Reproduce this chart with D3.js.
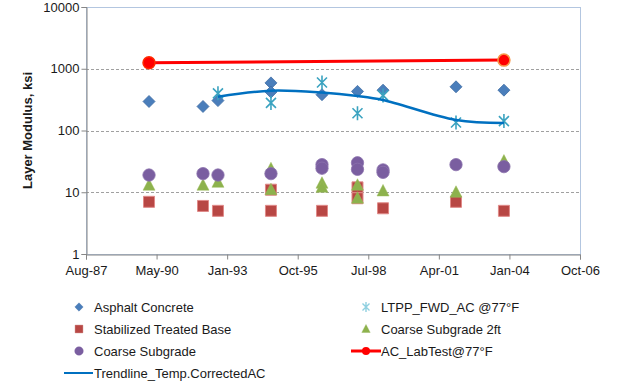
<!DOCTYPE html>
<html>
<head>
<meta charset="utf-8">
<script src="https://cdn.jsdelivr.net/npm/d3@7"></script>
<style>
  body { margin: 0; background: #fff; }
  text { font-family: Arial, "Liberation Sans", sans-serif; }
</style>
</head>
<body>
<svg width="617" height="390"></svg>
<script>
// data, [date, ksi]
const asphaltConcrete = [
  ["1990-01-20", 295], ["1992-02-24", 245], ["1992-09-23", 305],
  ["1994-10-14", 590], ["1994-10-14", 420], ["1996-10-06", 380],
  ["1998-02-21", 430], ["1999-02-18", 450], ["2001-12-18", 510],
  ["2003-10-28", 450]
];
const ltppFwdAC = [
  ["1992-09-23", 400], ["1994-10-14", 280], ["1996-10-06", 600],
  ["1998-02-21", 190], ["1999-02-18", 370], ["2001-12-18", 135],
  ["2003-10-28", 142]
];
const stabilizedBase = [
  ["1990-01-20", 7], ["1992-02-24", 6], ["1992-09-23", 5],
  ["1994-10-14", 11], ["1994-10-14", 5], ["1996-10-06", 5],
  ["1998-02-21", 12], ["1998-02-21", 8], ["1999-02-18", 5.5],
  ["2001-12-18", 7], ["2003-10-28", 5]
];
const coarseSubgrade2ft = [
  ["1990-01-20", 13], ["1992-02-24", 13], ["1992-09-23", 14.5],
  ["1994-10-14", 24], ["1994-10-14", 11], ["1996-10-06", 14],
  ["1996-10-06", 12], ["1998-02-21", 13], ["1998-02-21", 8],
  ["1999-02-18", 10.5], ["2001-12-18", 10], ["2003-10-28", 32]
];
const coarseSubgrade = [
  ["1990-01-20", 19], ["1992-02-24", 20], ["1992-09-23", 19],
  ["1994-10-14", 20], ["1996-10-06", 28], ["1996-10-06", 24.5],
  ["1998-02-21", 30], ["1998-02-21", 23.5], ["1999-02-18", 23],
  ["1999-02-18", 21], ["2001-12-18", 28], ["2003-10-28", 26]
];
const acLabTest = [["1990-01-20", 1250], ["2003-10-28", 1380]];
const trendline = [
  ["1992-09-23", 353], ["1994-10-14", 441], ["1996-10-06", 412],
  ["1998-02-21", 362], ["1999-02-18", 312], ["2001-12-18", 148],
  ["2003-10-28", 132]
];

const xTickLabels = ["Aug-87", "May-90", "Jan-93", "Oct-95", "Jul-98", "Apr-01", "Jan-04", "Oct-06"];
const yTicks = [1, 10, 100, 1000, 10000];

const parse = d3.timeParse("%Y-%m-%d");
const start = new Date(1987, 7, 11);                 // excel 32000, major unit 1000 days
const xTicks = xTickLabels.map((d, i) => d3.timeDay.offset(start, i * 1000));

const svg = d3.select("svg");
const plotL = 86, plotR = 580, plotT = 7, plotB = 254;

const x = d3.scaleTime().domain([xTicks[0], xTicks[xTicks.length - 1]]).range([plotL, plotR]);
const y = d3.scaleLog().domain([1, 10000]).range([plotB, plotT]);

// plot border
svg.append("rect")
  .attr("x", plotL + 0.5).attr("y", plotT + 0.5)
  .attr("width", plotR - plotL).attr("height", plotB - plotT)
  .attr("fill", "none").attr("stroke", "#b3c6e0").attr("stroke-width", 1);

// gridlines
svg.append("g").selectAll("line")
  .data([10, 100, 1000])
  .join("line")
  .attr("x1", plotL).attr("x2", plotR)
  .attr("y1", d => Math.round(y(d)) + 0.5).attr("y2", d => Math.round(y(d)) + 0.5)
  .attr("stroke", "#a0a0a0").attr("stroke-dasharray", "3,2");

// axes
const xAxis = svg.append("g")
  .attr("transform", `translate(0,${plotB + 0.5})`)
  .call(d3.axisBottom(x).tickValues(xTicks).tickFormat((d, i) => xTickLabels[i]).tickSizeOuter(0).tickSize(5));
const yAxis = svg.append("g")
  .attr("transform", `translate(${plotL + 0.5},0)`)
  .call(d3.axisLeft(y).tickValues(yTicks).tickFormat(d3.format("d")).tickSizeOuter(0).tickSize(5));

[xAxis, yAxis].forEach(g => {
  g.select(".domain").attr("stroke", "#868686");
  g.selectAll(".tick line").attr("stroke", "#868686");
  g.selectAll(".tick text").attr("fill", "#1a1a1a").style("font-size", "13px");
});
xAxis.selectAll(".tick text").attr("dy", "0.95em");
yAxis.selectAll(".tick text").attr("x", -7);

svg.append("text")
  .attr("transform", `translate(27,${(plotT + plotB) / 2}) rotate(-90)`)
  .attr("text-anchor", "middle")
  .attr("dy", "0.35em")
  .style("font-size", "13px").style("font-weight", "bold")
  .attr("fill", "#1a1a1a")
  .text("Layer Modulus, ksi");

// marker shapes
const shapes = {
  diamond: "M0,-6L6,0L0,6L-6,0Z",
  square: "M-5.5,-5.5H5.5V5.5H-5.5Z",
  triangle: "M0,-6.5L6,5L-6,5Z",
  circle: d3.symbol(d3.symbolCircle, 120)(),
  star: "M-5,-5L5,5M5,-5L-5,5M0,-7V7"
};

function drawMarkers(data, shape, fill, stroke, sw) {
  svg.append("g").selectAll("path")
    .data(data)
    .join("path")
    .attr("transform", d => `translate(${x(parse(d[0]))},${y(d[1])})`)
    .attr("d", shapes[shape])
    .attr("fill", fill).attr("stroke", stroke).attr("stroke-width", sw);
}

drawMarkers(asphaltConcrete, "diamond", "#4a7ebb", "#3e6ca3", 0.8);
drawMarkers(ltppFwdAC, "star", "none", "#3ba3c0", 1.6);
drawMarkers(stabilizedBase, "square", "#b84744", "#e08a88", 1);
drawMarkers(coarseSubgrade2ft, "triangle", "#8db24d", "#9bbb59", 0.5);
drawMarkers(coarseSubgrade, "circle", "#7a5ea0", "#8c72ad", 0.8);

// lab test line
const line = d3.line().x(d => x(parse(d[0]))).y(d => y(d[1]));
svg.append("path").datum(acLabTest)
  .attr("d", line).attr("fill", "none")
  .attr("stroke", "#ff0000").attr("stroke-width", 3);
svg.append("g").selectAll("circle")
  .data(acLabTest)
  .join("circle")
  .attr("cx", d => x(parse(d[0]))).attr("cy", d => y(d[1]))
  .attr("r", 6).attr("fill", "#ff0000")
  .attr("stroke", (d, i) => i ? "#f79646" : "#ff2a00").attr("stroke-width", 1.5);

// trendline
svg.append("path").datum(trendline)
  .attr("d", line.curve(d3.curveCatmullRom)).attr("fill", "none")
  .attr("stroke", "#0070c0").attr("stroke-width", 2.5);

// legend
const legendItems = [
  { label: "Asphalt Concrete", kind: "diamond", fill: "#4a7ebb", stroke: "#3e6ca3", col: 0, row: 0 },
  { label: "LTPP_FWD_AC @77°F", kind: "star", fill: "none", stroke: "#8fd0e0", col: 1, row: 0 },
  { label: "Stabilized Treated Base", kind: "square", fill: "#b84744", stroke: "#b84744", col: 0, row: 1 },
  { label: "Coarse Subgrade 2ft", kind: "triangle", fill: "#8db24d", stroke: "#8db24d", col: 1, row: 1 },
  { label: "Coarse Subgrade", kind: "circle", fill: "#7a5ea0", stroke: "#7a5ea0", col: 0, row: 2 },
  { label: "AC_LabTest@77°F", kind: "redline", col: 1, row: 2 },
  { label: "Trendline_Temp.CorrectedAC", kind: "blueline", col: 0, row: 3 }
];
const colX = [79, 366], rowY = [307, 329, 351, 373];

const leg = svg.append("g").selectAll("g")
  .data(legendItems)
  .join("g")
  .attr("transform", d => `translate(${colX[d.col]},${rowY[d.row]})`);

leg.each(function(d) {
  const g = d3.select(this);
  if (d.kind === "redline") {
    g.append("line").attr("x1", -15).attr("x2", 15).attr("stroke", "#ff0000").attr("stroke-width", 3);
    g.append("circle").attr("r", 4).attr("fill", "#ff0000");
  } else if (d.kind === "blueline") {
    g.append("line").attr("x1", -15).attr("x2", 14).attr("stroke", "#0070c0").attr("stroke-width", 2);
  } else {
    g.append("path").attr("d", shapes[d.kind])
      .attr("transform", "scale(0.7)")
      .attr("fill", d.fill).attr("stroke", d.stroke).attr("stroke-width", d.kind === "star" ? 2 : 0.5);
  }
  g.append("text")
    .attr("x", 15).attr("dy", "0.35em")
    .style("font-size", "13px").attr("fill", "#1a1a1a")
    .text(d.label);
});
</script>
</body>
</html>
